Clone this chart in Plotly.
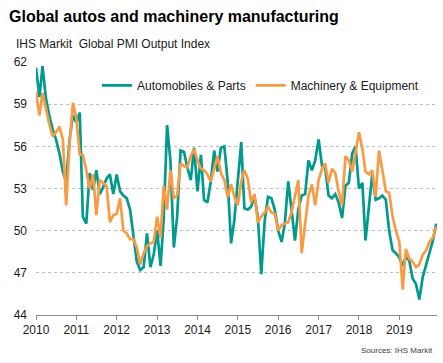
import pandas as pd
import plotly.graph_objects as go

dates = pd.date_range("2010-01-01", periods=120, freq="MS")

autos = [
    61.6, 59.5, 61.7, 59.4, 58.2, 57.2, 56.5, 55.5, 54.2, 53.5, 56.5, 58.2,
    57.7, 58.4, 51.0, 50.5, 54.1, 52.9, 54.3, 52.6, 53.1, 53.7, 54.0, 52.6,
    54.0, 52.8, 52.5, 52.3, 51.5, 49.5, 47.8, 47.2, 47.4, 49.8, 47.4, 48.3,
    50.0, 47.5, 50.8, 57.5, 55.0, 48.8, 51.0, 55.7, 55.6, 54.5, 53.6, 55.9,
    52.8, 55.4, 52.2, 52.0, 53.5, 55.7, 54.2, 55.9, 56.0, 53.5, 49.1, 50.8,
    53.4, 56.3, 51.6, 51.5, 51.7, 52.4, 51.0, 46.9, 50.7, 52.4, 52.3, 51.5,
    50.0, 49.2, 50.5, 53.5, 51.5, 49.3, 51.5, 52.5, 52.6, 55.0, 54.3, 55.0,
    56.5, 54.6, 54.5, 52.5, 52.3, 52.6, 52.0, 50.9, 53.2, 53.4, 55.5, 56.0,
    53.0, 53.4, 49.3, 51.7, 54.0, 52.2, 52.3, 52.5, 52.2, 50.0, 48.6, 48.4,
    48.1, 47.5, 48.1, 47.9, 46.6, 46.2, 45.1, 46.7, 47.6, 48.6, 49.3, 50.5,
]

machinery = [
    59.9, 58.2, 59.8, 58.6, 57.6, 56.7, 57.0, 57.4, 56.5, 51.8, 56.2, 59.1,
    58.0, 55.4, 55.4, 54.3, 53.0, 54.0, 51.1, 53.6, 53.4, 53.2, 50.6, 51.1,
    51.2, 52.3, 50.0, 49.8, 49.4, 49.4, 48.8, 47.6, 48.4, 48.9, 49.1, 49.2,
    51.0, 49.5, 53.2, 51.5, 54.3, 52.3, 52.5, 54.8, 54.6, 54.5, 55.3, 55.8,
    55.0, 54.4, 54.3, 54.0, 53.5, 54.5, 55.3, 54.1, 53.6, 52.4, 53.3, 52.4,
    51.8, 53.5, 54.3, 53.7, 52.0, 52.6, 50.6, 51.0, 51.3, 51.7, 51.3, 51.2,
    50.0, 50.4, 50.5, 50.6, 51.3, 52.6, 53.6, 48.4, 50.5, 52.5, 53.3, 51.8,
    53.6, 54.4, 54.8, 53.4, 54.4, 54.1, 52.8, 51.8, 55.3, 55.0, 54.2, 55.7,
    57.0, 55.8, 54.2, 54.0, 54.3, 52.4, 55.7, 54.3, 52.8, 52.7, 51.0, 50.0,
    49.2, 45.8, 48.7, 48.0, 47.8, 47.4, 47.6, 48.3, 48.6, 49.2, 49.5, 50.3,
]

y_ticks = [44, 47, 50, 53, 56, 59, 62]

TEAL = "#009B8D"
ORANGE = "#F99B45"
FONT = "Arial, Liberation Sans, sans-serif"

fig = go.Figure()
fig.add_trace(go.Scatter(x=dates, y=autos, mode="lines", name="Automobiles & Parts",
                         line=dict(color=TEAL, width=2.7)))
fig.add_trace(go.Scatter(x=dates, y=machinery, mode="lines", name="Machinery & Equipment",
                         line=dict(color=ORANGE, width=2.7)))

fig.update_layout(
    width=443, height=363,
    margin=dict(l=36, r=6, t=62, b=48),
    paper_bgcolor="white", plot_bgcolor="white",
    font=dict(family=FONT, size=12, color="#1a1a1a"),
    showlegend=True,
    legend=dict(orientation="h", x=0.152, y=0.908, xanchor="left", yanchor="middle",
                bgcolor="rgba(0,0,0,0)", font=dict(size=12, color="#1a1a1a")),
    title=dict(text="<b>Global autos and machinery manufacturing</b>",
               x=9/443, xanchor="left", xref="container",
               y=1-16/363, yanchor="middle", yref="container",
               font=dict(size=16, color="#000000", family=FONT)),
)

fig.update_xaxes(
    range=["2010-01-01", "2019-12-08"],
    tickformat="%Y", dtick="M12", tick0="2010-01-01",
    showgrid=False, showline=True, linecolor="#8c8c8c", linewidth=1,
    ticks="outside", ticklen=4, tickcolor="#8c8c8c",
    tickfont=dict(size=12, color="#1a1a1a"),
)
fig.update_yaxes(
    range=[44, 62], tickvals=y_ticks,
    showgrid=True, gridcolor="#bfbfbf", gridwidth=1, griddash="3px,3px",
    zeroline=False, showline=False, ticks="",
    tickfont=dict(size=12, color="#1a1a1a"), ticklabelstandoff=8,
)

fig.add_annotation(text="IHS Markit\u00a0 Global PMI Output Index",
                   xref="paper", yref="paper", x=(14-36)/401, y=(315-44)/253.3,
                   xanchor="left", yanchor="middle", showarrow=False,
                   font=dict(size=12, color="#1a1a1a"))
fig.add_annotation(text="Sources: IHS Markit",
                   xref="paper", yref="paper", x=(435-36)/401, y=(315-351)/253.3,
                   xanchor="right", yanchor="middle", showarrow=False,
                   font=dict(size=8, color="#404040"))

fig.write_html("out.html", config={"displayModeBar": False},
               post_script="document.body.style.margin='0px';")
